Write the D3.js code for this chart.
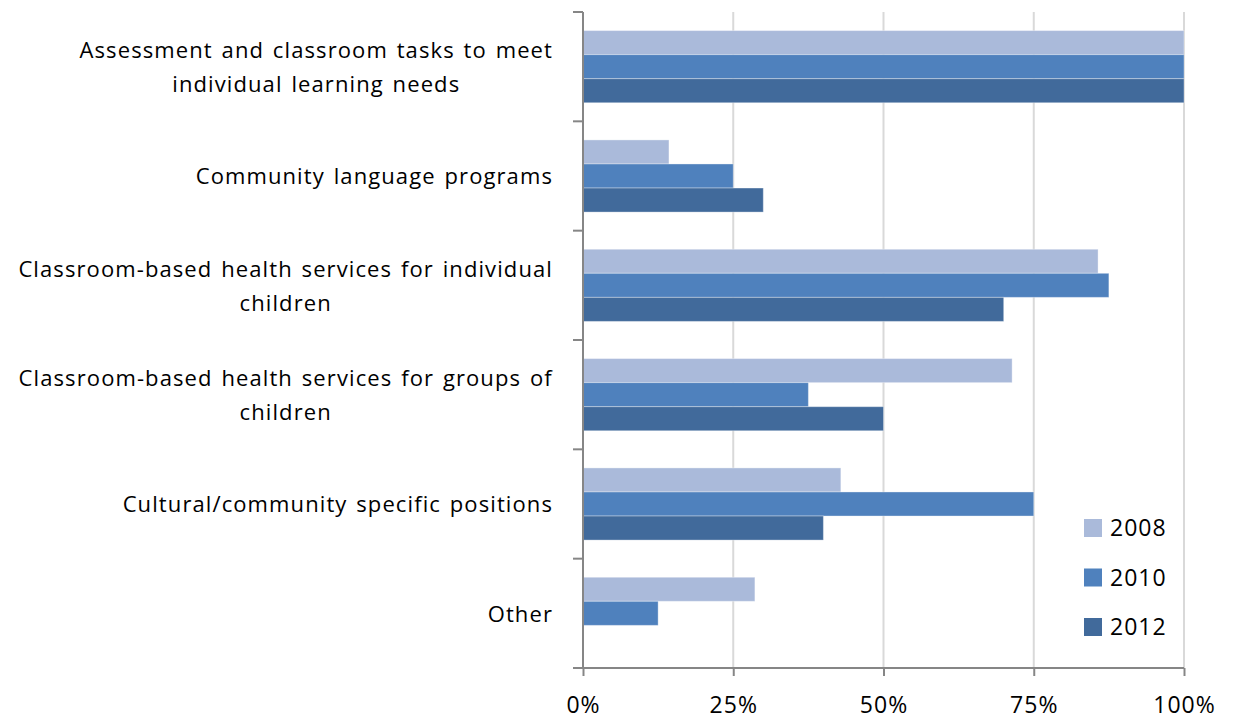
<!DOCTYPE html>
<html><head><meta charset="utf-8">
<script src="https://cdn.jsdelivr.net/npm/d3@7/dist/d3.min.js"></script>
<style>body{margin:0;background:#fff}text{font-family:"Open Sans",sans-serif;fill:#000}</style>
</head><body><svg id="c" width="1237" height="722"></svg>
<script>
const categories = [
  ["Assessment and classroom tasks to meet", "individual learning needs"],
  ["Community language programs"],
  ["Classroom-based health services for individual", "children"],
  ["Classroom-based health services for groups of", "children"],
  ["Cultural/community specific positions"],
  ["Other"]
];
const seriesNames = ["2008", "2010", "2012"];
const s2008 = [100, 14.3, 85.7, 71.4, 42.9, 28.6];
const s2010 = [100, 25, 87.5, 37.5, 75, 12.5];
const s2012 = [100, 30, 70, 50, 40, 0];
const tickValues = [0, 25, 50, 75, 100];
const colors = ["#AABADA", "#4F81BD", "#416A9B"];

const series = [s2008, s2010, s2012];
const svg = d3.select("#c");
const mLeft = 583, mRight = 1184, mTop = 12, mBottom = 668;
const x = d3.scaleLinear().domain([0, 100]).range([mLeft, mRight]);
const y = d3.scaleBand().domain(d3.range(categories.length)).range([mTop, mBottom]).paddingInner(0.34).paddingOuter(0.17);
const ys = d3.scaleBand().domain(d3.range(series.length)).range([0, y.bandwidth()]);

// gridlines
svg.append("g").selectAll("line").data(tickValues.filter(d => d > 0)).join("line")
  .attr("x1", d => x(d)).attr("x2", d => x(d)).attr("y1", mTop).attr("y2", mBottom)
  .attr("stroke", "#D9D9D9").attr("stroke-width", 2);

// bars
series.forEach((vals, si) => {
  svg.append("g").selectAll("rect").data(vals).join("rect")
    .attr("x", x(0)).attr("y", (d, i) => y(i) + ys(si))
    .attr("width", d => x(d) - x(0)).attr("height", ys.bandwidth())
    .attr("fill", colors[si]).attr("stroke", d => d > 0 ? "rgba(255,255,255,0.35)" : "none").attr("stroke-width", 1);
});

// axes
const xAxis = d3.axisBottom(x).tickValues(tickValues).tickSize(8).tickFormat(d => d + "%");
const gx = svg.append("g").attr("transform", `translate(0,${mBottom})`).call(xAxis);
gx.select(".domain").attr("stroke", "#868686").attr("stroke-width", 2).attr("d", `M${mLeft},0H${mRight}`);
gx.selectAll(".tick line").attr("stroke", "#868686").attr("stroke-width", 2);
gx.selectAll(".tick text").attr("font-size", 23).attr("dy", 0).attr("y", 45)
  .attr("font-family", "'Open Sans',sans-serif").attr("fill", "#000").attr("letter-spacing", 1);

const yTicks = d3.range(categories.length + 1).map(i => mTop + i * y.step());
svg.append("g").selectAll("line").data(yTicks).join("line")
  .attr("x1", mLeft - 10).attr("x2", mLeft).attr("y1", d => d).attr("y2", d => d)
  .attr("stroke", "#868686").attr("stroke-width", 2);
svg.append("line").attr("x1", mLeft).attr("x2", mLeft).attr("y1", mTop).attr("y2", mBottom + 1)
  .attr("stroke", "#868686").attr("stroke-width", 2);

// category labels
const lineH = 34;
categories.forEach((lines, i) => {
  const cy = y(i) + y.bandwidth() / 2;
  const g = svg.append("g");
  const t = g.append("text").attr("font-size", 22).attr("text-anchor", "middle").attr("letter-spacing", 1.1).attr("word-spacing", 2);
  lines.forEach((l, j) => {
    t.append("tspan").attr("x", 0).attr("y", cy + (j - (lines.length - 1) / 2) * lineH).attr("dy", "0.38em").text(l);
  });
  const w = t.node().getBBox().width;
  t.attr("transform", `translate(${553 - w / 2},0)`);
});

// legend
const lg = svg.append("g").attr("transform", "translate(1084,519)");
seriesNames.forEach((n, i) => {
  lg.append("rect").attr("x", 0).attr("y", i * 49.5).attr("width", 18).attr("height", 18).attr("fill", colors[i]);
  lg.append("text").attr("x", 26).attr("y", i * 49.5 + 9).attr("dy", "0.36em").attr("font-size", 23).attr("letter-spacing", 1).text(n);
});
</script></body></html>
